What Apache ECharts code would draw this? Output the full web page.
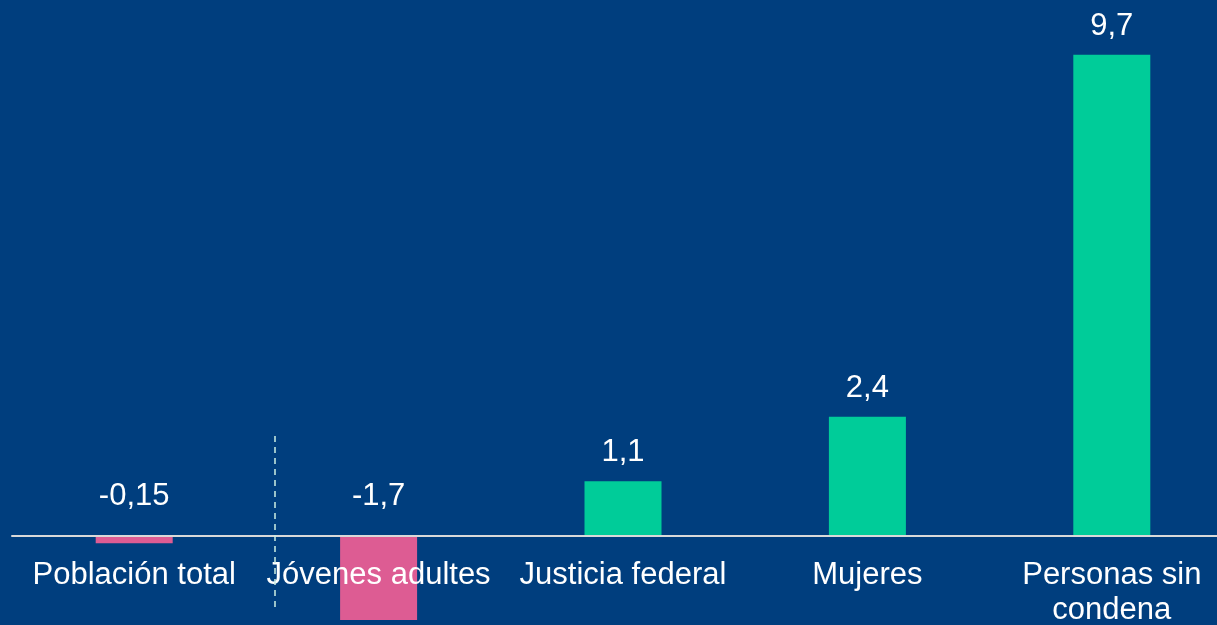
<!DOCTYPE html>
<html>
<head>
    <meta charset="utf-8">
    <title>bars</title>
    <script src="https://cdn.jsdelivr.net/npm/echarts@6/dist/echarts.min.js"></script>
    <style>
        html, body { margin: 0; padding: 0; background: #003E7E; }
    </style>
</head>
<body>
    <div id="main" style="width: 1217px; height: 625px;"></div>
    <script type="text/javascript">
        var categories = ['Población total', 'Jóvenes adultes', 'Justicia federal', 'Mujeres', 'Personas sin\ncondena'];
        var values = [-0.15, -1.7, 1.1, 2.4, 9.7];
        var valueLabels = ['-0,15', '-1,7', '1,1', '2,4', '9,7'];

        var myChart = echarts.init(document.getElementById('main'));

        var barData = values.map(function (v, i) {
            return {
                value: v,
                itemStyle: { color: v < 0 ? '#DD5C93' : '#00CC99' },
                label: {
                    position: 'top',
                    distance: v < 0 ? 24 : 13
                }
            };
        });

        var option = {
            backgroundColor: '#003E7E',
            grid: {
                left: 12,
                right: -17,
                top: 40,
                bottom: 0,
                containLabel: false,
                outerBoundsMode: 'none'
            },
            xAxis: {
                type: 'category',
                data: categories,
                z: 5,
                // axis sits at zero, labels just below it
                offset: -89,
                axisLine: {
                    onZero: false,
                    lineStyle: { color: '#D9D9D9', width: 2 }
                },
                axisTick: { show: false },
                axisLabel: {
                    color: '#fff',
                    fontSize: 31,
                    fontFamily: 'Liberation Sans, Arial, sans-serif',
                    margin: 22,
                    lineHeight: 35,
                    interval: 0
                }
            },
            yAxis: {
                type: 'value',
                min: -1.8,
                max: 10,
                show: false,
                splitLine: { show: false }
            },
            series: [{
                type: 'bar',
                barWidth: 77,
                data: barData,
                label: {
                    show: true,
                    color: '#fff',
                    fontSize: 31,
                    fontFamily: 'Liberation Sans, Arial, sans-serif',
                    formatter: function (p) { return valueLabels[p.dataIndex]; }
                }
            }],
            graphic: [{
                type: 'line',
                z: 10,
                shape: { x1: 275, y1: 436, x2: 275, y2: 607 },
                style: { stroke: '#CDEFE3', lineWidth: 1.5, lineDash: [6, 5] }
            }]
        };

        myChart.setOption(option);
    </script>
</body>
</html>
